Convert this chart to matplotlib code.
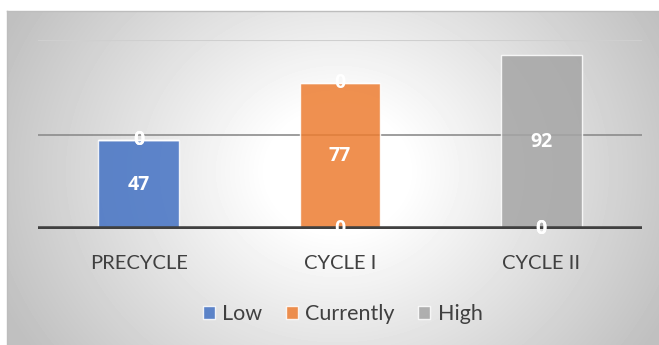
import numpy as np
import matplotlib.pyplot as plt

plt.rcParams['font.family'] = ['Lato', 'DejaVu Sans']

categories = ['PRECYCLE', 'CYCLE I', 'CYCLE II']
series_names = ['Low', 'Currently', 'High']
low = [47, 0, 0]
currently = [0, 77, 0]
high = [0, 0, 92]

colors = ['#4472C4', '#ED7D31', '#A5A5A5']
text_color = '#404040'

W, H = 659, 345
fig = plt.figure(figsize=(W / 100, H / 100), dpi=100)

# radial grey gradient behind the chart area
bg = fig.add_axes([7 / W, 0, (W - 7) / W, (H - 11) / H])
yy, xx = np.mgrid[0:334, 0:652]
d = np.hypot(xx - 330, (yy - 160) * 1.15)
t = np.clip((d - 70) / 300, 0, 1)
shade = 1 - 0.25 * t
bg.imshow(shade, cmap='gray', vmin=0, vmax=1, aspect='auto', interpolation='bilinear')
bg.set_xticks([])
bg.set_yticks([])
for s in bg.spines.values():
    s.set_color('#bdbdbd')
    s.set_linewidth(1)
bg.spines['right'].set_visible(False)
bg.spines['bottom'].set_visible(False)

ax = fig.add_axes([38 / W, (H - 229) / H, (642 - 38) / W, (229 - 40) / H])
ax.patch.set_alpha(0)
ax.set_xlim(-0.5, 2.5)
ax.set_ylim(0, 100)

ax.axhline(100, color='#cfcfcf', lw=1.5, zorder=1)
ax.axhline(50, color='#8c8c8c', lw=1.2, zorder=1)

x = np.arange(len(categories))
bottom = np.zeros(len(categories))
containers = []
for name, vals, c in zip(series_names, [low, currently, high], colors):
    bars = ax.bar(x, vals, 0.4, bottom=bottom, color=c, alpha=0.85,
                  edgecolor=(1, 1, 1, 0.6), linewidth=1, label=name, zorder=2)
    containers.append(bars)
    bottom += np.array(vals)

ax.axhline(0, color='#404040', lw=4, zorder=3, solid_capstyle='butt')

for bars in containers:
    ax.bar_label(bars, label_type='center', color='white', fontsize=14,
                 fontweight='bold', family=['Open Sans', 'DejaVu Sans'], zorder=4)

ax.set_xticks(x)
ax.set_xticklabels(categories, fontsize=14.5, color=text_color)
ax.tick_params(axis='x', length=0, pad=19)
ax.set_yticks([])
for s in ax.spines.values():
    s.set_visible(False)

fig.legend(loc='center', bbox_to_anchor=(0.52, (H - 314) / H), ncol=3,
           frameon=False, fontsize=15.5, labelcolor=text_color,
           handlelength=0.55, handleheight=0.55, handletextpad=0.35,
           columnspacing=1.1)

fig.savefig('out.png', dpi=100)
